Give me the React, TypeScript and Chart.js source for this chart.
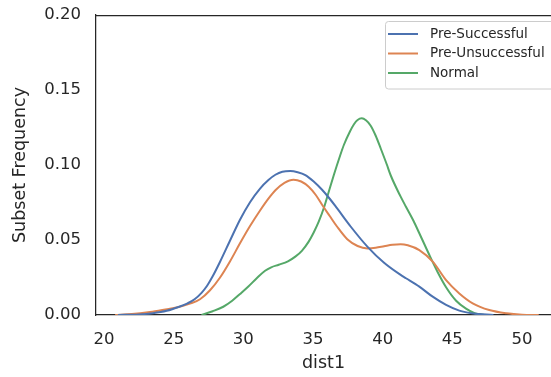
import React, { useEffect, useRef } from 'react';
import { Chart, registerables } from 'chart.js';

Chart.register(...registerables);

// ---- data ----
const xTicks = [20, 25, 30, 35, 40, 45, 50];
const yTicks = [0, 0.05, 0.1, 0.15, 0.2];
const seriesNames = ['Pre-Successful', 'Pre-Unsuccessful', 'Normal'];
const seriesColors = ['#4c72b0', '#dd8452', '#55a868'];
const xLabel = 'dist1';
const yLabel = 'Subset Frequency';

const preSuccessfulX = [21.0, 22.5, 23.5, 24.5, 25.4, 26.0, 26.5, 27.0, 27.4, 27.8, 28.33, 29.04, 29.76, 30.48, 31.2, 31.8, 32.3, 32.8, 33.37, 33.9, 34.45, 35.05, 35.65, 36.2, 36.72, 37.7, 38.9, 40.1, 41.29, 41.67, 42.63, 43.59, 44.55, 45.5, 46.5, 47.95];
const preSuccessfulY = [0.0, 0.0004, 0.0012, 0.0028, 0.0055, 0.0078, 0.0105, 0.0148, 0.0195, 0.0258, 0.0355, 0.0495, 0.0635, 0.0752, 0.0843, 0.090, 0.0935, 0.0955, 0.096, 0.0952, 0.0933, 0.089, 0.0835, 0.0775, 0.0712, 0.059, 0.0456, 0.0348, 0.0267, 0.0245, 0.0189, 0.0122, 0.0067, 0.0029, 0.001, 0.0];

const preUnsuccessfulX = [20.8, 22.0, 23.3, 24.3, 25.2, 26.17, 26.89, 27.61, 28.33, 29.04, 29.76, 30.48, 31.2, 31.8, 32.3, 32.95, 33.6, 34.15, 34.69, 35.2, 35.65, 36.2, 36.72, 37.46, 38.2, 38.9, 39.5, 40.1, 40.7, 41.29, 41.8, 42.63, 43.59, 44.55, 45.5, 46.46, 47.65, 48.9, 50.0, 51.2];
const preUnsuccessfulY = [0.0, 0.0006, 0.002, 0.0035, 0.005, 0.0076, 0.0105, 0.0165, 0.025, 0.0357, 0.0478, 0.0593, 0.0697, 0.0776, 0.0832, 0.0881, 0.0902, 0.089, 0.0855, 0.080, 0.0735, 0.066, 0.059, 0.0505, 0.046, 0.0444, 0.0448, 0.0458, 0.0468, 0.0472, 0.0465, 0.0433, 0.0356, 0.0233, 0.0144, 0.0078, 0.0033, 0.0011, 0.0002, 0.0];

const normalX = [27.0, 27.8, 28.56, 29.2, 29.76, 30.36, 30.96, 31.56, 32.0, 32.54, 33.2, 33.73, 34.2, 34.69, 35.05, 35.41, 35.8, 36.13, 36.5, 36.9, 37.22, 37.66, 37.94, 38.2, 38.5, 38.8, 39.14, 39.5, 39.86, 40.29, 40.58, 41.29, 41.67, 42.2, 42.63, 43.35, 43.95, 44.55, 45.27, 45.98, 46.6, 47.3];
const normalY = [0.0, 0.0025, 0.0055, 0.0095, 0.014, 0.019, 0.0245, 0.0295, 0.0318, 0.0335, 0.0358, 0.0389, 0.0428, 0.0489, 0.055, 0.0622, 0.072, 0.0822, 0.0935, 0.105, 0.1135, 0.1225, 0.1272, 0.130, 0.1311, 0.1298, 0.1262, 0.1195, 0.111, 0.1005, 0.093, 0.0789, 0.0722, 0.063, 0.0545, 0.040, 0.0285, 0.0185, 0.0095, 0.0042, 0.0012, 0.0];

const seriesX = [preSuccessfulX, preUnsuccessfulX, normalX];
const seriesY = [preSuccessfulY, preUnsuccessfulY, normalY];

const FONT = "'DejaVu Sans', sans-serif";
const INK = '#262626';

const framePlugin = {
  id: 'frameAndLegend',
  afterDraw(chart: any) {
    const { ctx, chartArea } = chart;
    ctx.save();
    // top spine
    ctx.strokeStyle = INK;
    ctx.lineWidth = 1.25;
    ctx.beginPath();
    ctx.moveTo(chartArea.left, chartArea.top + 0.5);
    ctx.lineTo(chart.width, chartArea.top + 0.5);
    ctx.stroke();

    // legend
    const bx = 385.5, by = 21.5, bw = 175, bh = 67.5, r = 3;
    ctx.fillStyle = 'rgba(255,255,255,0.85)';
    ctx.strokeStyle = '#cccccc';
    ctx.lineWidth = 1;
    ctx.beginPath();
    ctx.moveTo(bx + r, by);
    ctx.lineTo(bx + bw - r, by);
    ctx.arcTo(bx + bw, by, bx + bw, by + r, r);
    ctx.lineTo(bx + bw, by + bh - r);
    ctx.arcTo(bx + bw, by + bh, bx + bw - r, by + bh, r);
    ctx.lineTo(bx + r, by + bh);
    ctx.arcTo(bx, by + bh, bx, by + bh - r, r);
    ctx.lineTo(bx, by + r);
    ctx.arcTo(bx, by, bx + r, by, r);
    ctx.closePath();
    ctx.fill();
    ctx.stroke();

    ctx.font = `13.5px ${FONT}`;
    ctx.textBaseline = 'middle';
    ctx.textAlign = 'left';
    seriesNames.forEach((name, i) => {
      const yy = 34 + i * 19.5;
      ctx.strokeStyle = seriesColors[i];
      ctx.lineWidth = 2;
      ctx.beginPath();
      ctx.moveTo(388, yy);
      ctx.lineTo(418, yy);
      ctx.stroke();
      ctx.fillStyle = INK;
      ctx.fillText(name, 430, yy);
    });
    ctx.restore();
  },
};

export default function App() {
  const canvasRef = useRef<HTMLCanvasElement | null>(null);

  useEffect(() => {
    document.body.style.margin = '0';
    const canvas = canvasRef.current;
    if (!canvas) return;
    const chart = new Chart(canvas, {
      type: 'line',
      data: {
        datasets: seriesNames.map((name, i) => ({
          label: name,
          data: seriesX[i].map((x, j) => ({ x, y: seriesY[i][j] })),
          borderColor: seriesColors[i],
          backgroundColor: seriesColors[i],
          borderWidth: 2,
          pointRadius: 0,
          fill: false,
          cubicInterpolationMode: 'monotone' as const,
        })),
      },
      options: {
        animation: false,
        responsive: false,
        devicePixelRatio: 1,
        layout: { padding: { top: 15, left: 0, right: 0, bottom: 0 } },
        plugins: {
          legend: { display: false },
          tooltip: { enabled: false },
        },
        scales: {
          x: {
            type: 'linear',
            position: 'bottom',
            min: 19.426,
            max: 52.08,
            afterBuildTicks: (scale: any) => {
              scale.ticks = xTicks.map((v) => ({ value: v }));
            },
            afterFit: (scale: any) => {
              scale.height = 62;
              scale.paddingLeft = 0;
              scale.paddingRight = 0;
            },
            grid: { display: false, drawTicks: false },
            border: { display: true, color: INK, width: 1.25 },
            ticks: {
              padding: 15,
              maxRotation: 0,
              autoSkip: false,
              color: INK,
              font: { family: FONT, size: 16.5 },
              callback: (v: any) => String(v),
            },
            title: {
              display: true,
              text: xLabel,
              color: INK,
              font: { family: FONT, size: 17.5 },
              padding: { top: 0, bottom: 3 },
            },
          },
          y: {
            type: 'linear',
            position: 'left',
            min: 0,
            max: 0.2,
            afterBuildTicks: (scale: any) => {
              scale.ticks = yTicks.map((v) => ({ value: v }));
            },
            afterFit: (scale: any) => {
              scale.width = 96;
              scale.paddingTop = 0;
              scale.paddingBottom = 0;
            },
            grid: { display: false, drawTicks: false },
            border: { display: true, color: INK, width: 1.25 },
            ticks: {
              padding: 15,
              autoSkip: false,
              color: INK,
              font: { family: FONT, size: 16.5 },
              callback: (v: any) => Number(v).toFixed(2),
            },
            title: {
              display: true,
              text: yLabel,
              color: INK,
              font: { family: FONT, size: 17.5 },
              padding: { top: 10, bottom: 0 },
            },
          },
        },
      },
      plugins: [framePlugin],
    });
    return () => chart.destroy();
  }, []);

  return (
    <div style={{ position: 'fixed', left: 0, top: 0, width: 551, height: 377, background: '#ffffff' }}>
      <canvas ref={canvasRef} width={551} height={377} style={{ display: 'block', width: 551, height: 377 }} />
    </div>
  );
}
